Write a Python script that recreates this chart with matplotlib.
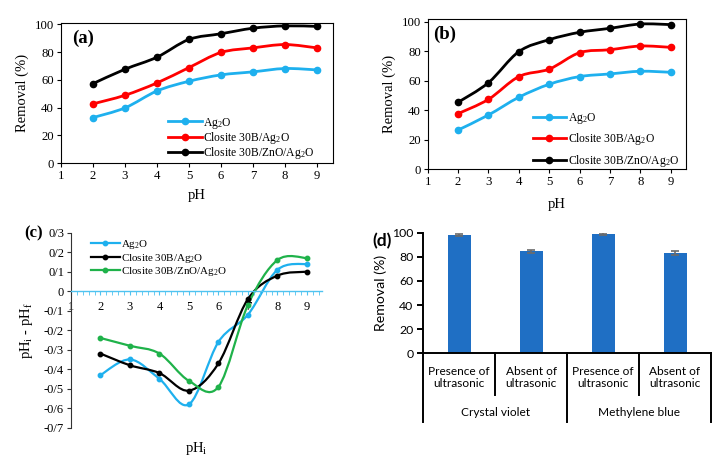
import numpy as np
import matplotlib
matplotlib.use("Agg")
from matplotlib import pyplot as plt
from matplotlib.path import Path
from matplotlib.patches import PathPatch
from matplotlib.lines import Line2D

plt.rcParams['font.family'] = ['Liberation Serif', 'DejaVu Serif']
plt.rcParams['mathtext.fontset'] = 'custom'
plt.rcParams['mathtext.rm'] = 'Liberation Serif'
plt.rcParams['mathtext.it'] = 'Liberation Serif:italic'

# data
ph = [2, 3, 4, 5, 6, 7, 8, 9]

a_ag2o = [32.8, 39.8, 52.0, 59.0, 63.6, 65.8, 68.2, 67.2]
a_closite = [42.7, 48.9, 57.8, 68.9, 79.8, 83.1, 85.5, 83.1]
a_zno = [57.3, 67.7, 76.4, 89.2, 93.3, 97.3, 99.0, 98.6]

b_ag2o = [26.6, 36.8, 48.8, 57.6, 62.8, 64.6, 66.4, 65.7]
b_closite = [37.7, 47.4, 62.8, 67.9, 79.0, 81.0, 83.5, 82.6]
b_zno = [45.4, 58.7, 79.7, 87.8, 92.8, 95.5, 98.4, 98.0]

c_ag2o = [-0.43, -0.35, -0.45, -0.58, -0.26, -0.12, 0.11, 0.14]
c_closite = [-0.32, -0.38, -0.42, -0.51, -0.37, -0.04, 0.08, 0.10]
c_zno = [-0.24, -0.28, -0.32, -0.46, -0.49, -0.07, 0.16, 0.17]

d_cats = ['Presence of\nultrasonic', 'Absent of\nultrasonic', 'Presence of\nultrasonic', 'Absent of\nultrasonic']
d_groups = ['Crystal violet', 'Methylene blue']
d_vals = [98.0, 84.5, 99.0, 83.0]
d_err = [1.0, 1.2, 0.6, 1.5]

lab_ag2o = r'Ag$_\mathregular{2}$O'
lab_closite = r'Closite 30B/Ag$_\mathregular{2}$O'
lab_zno = r'Closite 30B/ZnO/Ag$_\mathregular{2}$O'

cyan = '#1eb0ee'
red = '#ff0000'
black = '#000000'
green = '#1fb24a'


def smooth_path(x, y):
    p = np.column_stack([x, y]).astype(float)
    n = len(p)
    verts = [p[0]]
    codes = [Path.MOVETO]
    for i in range(n - 1):
        p0 = p[i - 1] if i > 0 else p[i]
        p3 = p[i + 2] if i + 2 < n else p[i + 1]
        c1 = p[i] + (p[i + 1] - p0) / 6
        c2 = p[i + 1] - (p3 - p[i]) / 6
        verts += [c1, c2, p[i + 1]]
        codes += [Path.CURVE4] * 3
    return Path(verts, codes)


def series(ax, x, y, color, lw, ms, label):
    ax.add_patch(PathPatch(smooth_path(x, y), fc='none', ec=color, lw=lw, capstyle='round', joinstyle='round'))
    ax.plot(x, y, 'o', color=color, ms=ms)
    return Line2D([], [], color=color, lw=lw, marker='o', ms=ms, label=label)


W, H = 721, 461
fig = plt.figure(figsize=(W / 100, H / 100), dpi=100)


def box(l, t, r, b):
    return [l / W, 1 - b / H, (r - l) / W, (b - t) / H]


def removal_panel(rect, s1, s2, s3, ytop, leg_xy, spacing, xpad, tag, tag_xy):
    ax = fig.add_axes(rect)
    h = [series(ax, ph, s1, cyan, 2.0, 4.5, lab_ag2o),
         series(ax, ph, s2, red, 2.0, 4.5, lab_closite),
         series(ax, ph, s3, black, 2.0, 4.5, lab_zno)]
    ax.set_xlim(1, 9.5)
    ax.set_ylim(0, ytop)
    ax.set_xticks(range(1, 10))
    ax.set_yticks(range(0, 101, 20))
    ax.tick_params(labelsize=9.2, length=3, width=0.8, direction='out', pad=2)
    for s in ax.spines.values():
        s.set_linewidth(0.8)
    ax.set_xlabel('pH', fontsize=10.5, labelpad=xpad)
    ax.set_ylabel('Removal (%)', fontsize=10.5, labelpad=4)
    ax.legend(handles=h, loc='center left', bbox_to_anchor=leg_xy, frameon=False, fontsize=8.4,
              handlelength=2.9, handletextpad=0.15, labelspacing=spacing, borderpad=0, borderaxespad=0)
    fig.text(tag_xy[0] / W, 1 - tag_xy[1] / H, tag, fontsize=13.5, fontweight='bold', va='center')
    return ax


removal_panel(box(61, 23.5, 333, 163), a_ag2o, a_closite, a_zno, 100.7, (0.393, 0.176), -0.05, 5, '(a)', (72, 38))
removal_panel(box(427.7, 19, 686, 169.3), b_ag2o, b_closite, b_zno, 101.8, (0.406, 0.195), 0.45, 7, '(b)', (433, 34))

# panel (c)
axc = fig.add_axes(box(71, 232.7, 321.7, 427.7))
hc = [series(axc, ph, c_ag2o, cyan, 1.6, 3.2, lab_ag2o),
      series(axc, ph, c_closite, black, 1.6, 3.2, lab_closite),
      series(axc, ph, c_zno, green, 1.6, 3.2, lab_zno)]
axc.set_xlim(1, 9.5)
axc.set_ylim(-0.7, 0.3)
yt = np.round(np.arange(-0.7, 0.31, 0.1), 1)
axc.set_yticks(yt)
axc.set_yticklabels([('0' if v == 0 else ('%.1f' % v).replace('.', '/')) for v in yt])
axc.set_xticks(range(1, 10))
axc.set_xticks(np.arange(1, 9.51, 0.2), minor=True)
axc.spines['top'].set_visible(False)
axc.spines['right'].set_visible(False)
axc.spines['bottom'].set_position(('data', 0))
axc.spines['bottom'].set_color('#4fc3f0')
axc.spines['bottom'].set_linewidth(1.0)
axc.spines['left'].set_color('#333333')
axc.tick_params(axis='x', which='both', length=3, color='#4fc3f0', labelsize=9, pad=4)
axc.tick_params(axis='y', length=3, color='#333333', labelsize=9, pad=2)
axc.set_ylabel(r'pH$_\mathregular{i}$ - pH$_\mathregular{f}$', fontsize=10.5, labelpad=6)
axc.set_xlabel(r'pH$_\mathregular{i}$', fontsize=10.5, va='center')
axc.xaxis.set_label_coords(0.5, -0.105)
axc.legend(handles=hc, loc='center left', bbox_to_anchor=(0.08, 0.869), frameon=False, fontsize=7.9,
           handlelength=2.6, handletextpad=0.15, labelspacing=0.05, borderpad=0, borderaxespad=0)
fig.text(24 / W, 1 - 233 / H, '(c)', fontsize=12, fontweight='bold', va='center')

# panel (d)
sans = ['Lato', 'DejaVu Sans']
axd = fig.add_axes(box(423.3, 232.7, 711, 353.3))
xd = np.arange(len(d_vals))
axd.bar(xd, d_vals, width=0.32, color='#1f6fc4', yerr=d_err,
        error_kw=dict(ecolor='#6b6b6b', elinewidth=1.2, capsize=3, capthick=1.2))
axd.set_xlim(-0.5, 3.5)
axd.set_ylim(0, 100)
axd.set_yticks(range(0, 101, 20))
axd.set_xticks([])
axd.spines['top'].set_visible(False)
axd.spines['right'].set_visible(False)
axd.spines['left'].set_linewidth(1.4)
axd.spines['bottom'].set_linewidth(1.4)
axd.tick_params(axis='y', length=4, width=1.4, labelsize=8.8, pad=3)
for t in axd.get_yticklabels():
    t.set_family(sans)
axd.set_ylabel('Removal (%)', fontsize=10.2, family=sans, labelpad=4)
tr = axd.get_xaxis_transform()
for xs in [0.5, 2.5]:
    axd.plot([xs, xs], [0, -0.346], color='black', lw=1.4, transform=tr, clip_on=False)
for xs in [-0.5, 1.5, 3.5]:
    axd.plot([xs, xs], [0, -0.567], color='black', lw=1.4, transform=tr, clip_on=False)
for i, c in enumerate(d_cats):
    axd.text(i, -0.2, c, transform=tr, ha='center', va='center', fontsize=8.6, family=sans, linespacing=1.2)
for j, g in enumerate(d_groups):
    axd.text(2 * j + 0.5, -0.49, g, transform=tr, ha='center', va='center', fontsize=8.6, family=sans)
fig.text(372 / W, 1 - 241 / H, '(d)', fontsize=12.5, fontweight='bold', va='center', family=sans)

fig.savefig('out.png', dpi=100)
